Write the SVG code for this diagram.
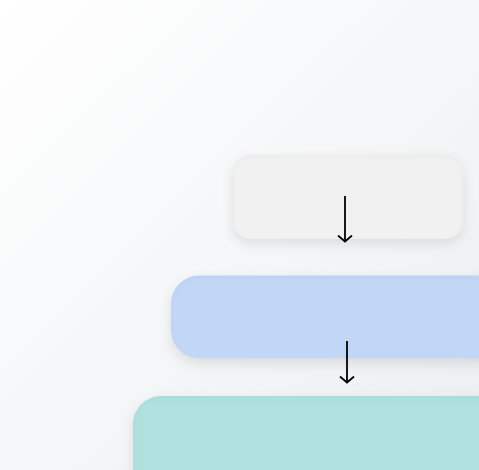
<svg xmlns="http://www.w3.org/2000/svg" width="479" height="470" viewBox="0 0 479 470">
<defs>
<linearGradient id="bg" x1="0" y1="0" x2="1" y2="1">
<stop offset="0" stop-color="#ffffff"/>
<stop offset="1" stop-color="#eceef1"/>
</linearGradient>
<filter id="sh" x="-20%" y="-30%" width="140%" height="170%">
<feGaussianBlur in="SourceAlpha" stdDeviation="2" result="b1"/>
<feOffset in="b1" dy="2" result="o1"/>
<feComposite in="SourceAlpha" in2="o1" operator="out" result="inner"/>
<feFlood flood-color="#000" flood-opacity="0.06"/>
<feComposite in2="inner" operator="in" result="innerSh"/>
<feGaussianBlur in="SourceAlpha" stdDeviation="6" result="b2"/>
<feOffset in="b2" dy="5" result="o2"/>
<feFlood flood-color="#000" flood-opacity="0.10"/>
<feComposite in2="o2" operator="in" result="drop"/>
<feMerge>
<feMergeNode in="drop"/>
<feMergeNode in="SourceGraphic"/>
<feMergeNode in="innerSh"/>
</feMerge>
</filter>
<marker id="ah" viewBox="0 0 8 16" refX="7" refY="8" markerWidth="8" markerHeight="16" markerUnits="userSpaceOnUse" orient="auto">
<path d="M1 1 L7 8 L1 15" fill="none" stroke="#000" stroke-width="1.8"/>
</marker>
<style>
.node{filter:url(#sh)}
.conn{stroke:#000;stroke-width:1.8;fill:none}
</style>
</defs>
<rect width="479" height="470" fill="url(#bg)"/>
<g id="node-top" class="node">
<rect x="233" y="154.5" width="230" height="84" rx="18" fill="#f1f1f1"/>
</g>
<g id="node-middle" class="node">
<rect x="171" y="275.5" width="340" height="83" rx="28" fill="#c2d6f6"/>
</g>
<g id="node-bottom" class="node">
<rect x="133" y="396" width="380" height="100" rx="28" fill="#b0e1de"/>
</g>
<g id="connectors">
<line class="conn" x1="345" y1="196" x2="345" y2="241.5" marker-end="url(#ah)"/>
<line class="conn" x1="347" y1="341" x2="347" y2="382.5" marker-end="url(#ah)"/>
</g>
</svg>
